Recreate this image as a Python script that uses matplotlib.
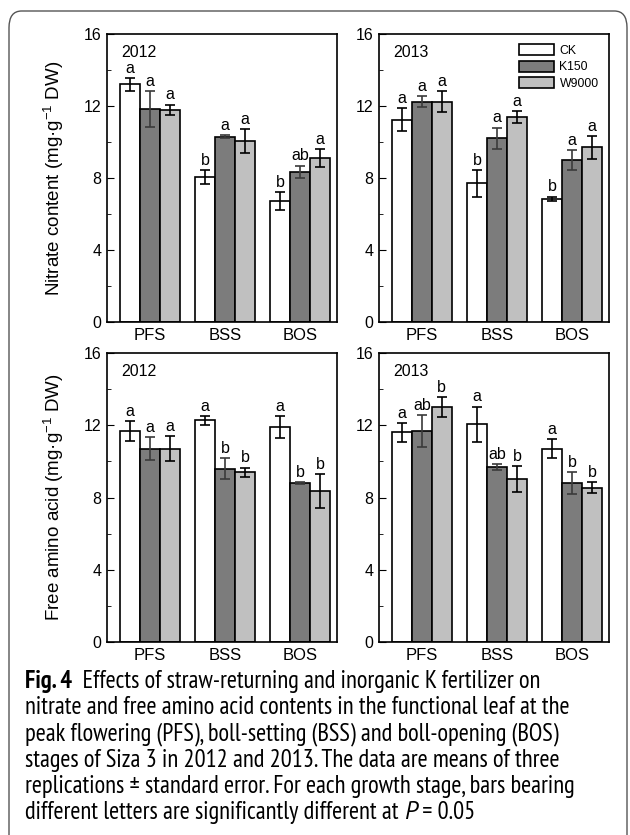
import numpy as np
import matplotlib
matplotlib.use("Agg")
import matplotlib.pyplot as plt
from matplotlib.patches import FancyBboxPatch

plt.rcParams["font.family"] = ["Liberation Sans", "DejaVu Sans"]
plt.rcParams["mathtext.fontset"] = "custom"
plt.rcParams["mathtext.rm"] = "Liberation Sans"
plt.rcParams["mathtext.it"] = "Liberation Sans:italic"

stages = ["PFS", "BSS", "BOS"]
treatments = ["CK", "K150", "W9000"]
years = ["2012", "2013"]

# nitrate content, mg/g DW  (rows: CK, K150, W9000; cols: PFS, BSS, BOS)
nitrate_2012 = [[13.2, 8.05, 6.7], [11.85, 10.3, 8.35], [11.8, 10.05, 9.1]]
nitrate_2012_se = [[0.37, 0.37, 0.5], [1.0, 0.07, 0.34], [0.28, 0.65, 0.5]]
nitrate_2012_let = [["a", "b", "b"], ["a", "a", "ab"], ["a", "a", "a"]]
nitrate_2013 = [[11.25, 7.7, 6.85], [12.25, 10.2, 9.0], [12.25, 11.4, 9.7]]
nitrate_2013_se = [[0.62, 0.74, 0.12], [0.3, 0.6, 0.55], [0.58, 0.34, 0.65]]
nitrate_2013_let = [["a", "b", "b"], ["a", "a", "a"], ["a", "a", "a"]]

# free amino acid, mg/g DW
amino_2012 = [[11.7, 12.27, 11.9], [10.7, 9.6, 8.82], [10.7, 9.4, 8.35]]
amino_2012_se = [[0.55, 0.25, 0.62], [0.63, 0.58, 0.05], [0.69, 0.26, 0.93]]
amino_2012_let = [["a", "a", "a"], ["a", "b", "b"], ["a", "b", "b"]]
amino_2013 = [[11.6, 12.05, 10.7], [11.7, 9.68, 8.82], [13.0, 9.02, 8.55]]
amino_2013_se = [[0.54, 0.98, 0.53], [0.88, 0.18, 0.61], [0.57, 0.7, 0.3]]
amino_2013_let = [["a", "a", "a"], ["ab", "ab", "b"], ["b", "b", "b"]]

caption = [
    "Effects of straw-returning and inorganic K fertilizer on",
    "nitrate and free amino acid contents in the functional leaf at the",
    "peak flowering (PFS), boll-setting (BSS) and boll-opening (BOS)",
    "stages of Siza 3 in 2012 and 2013. The data are means of three",
    "replications \u00b1 standard error. For each growth stage, bars bearing",
    "different letters are significantly different at ",
]

FILL = ["white", "#7c7c7c", "#c0c0c0"]
ECOL = ["black", "#3a3a3a", "black"]
W, H = 630, 835
fig = plt.figure(figsize=(W / 100, H / 100), dpi=100)

fig.patches.append(FancyBboxPatch((9 / W, -0.05), 618 / W, 1 - 11 / H + 0.05,
                                  boxstyle="round,pad=0,rounding_size=0.02",
                                  transform=fig.transFigure, fill=False,
                                  ec="#555555", lw=1.0))


def px_axes(x0, y0, x1, y1):
    return fig.add_axes([x0 / W, 1 - y1 / H, (x1 - x0) / W, (y1 - y0) / H])


def panel(ax, vals, se, lets, year, ylabel=None, legend=False):
    x = np.arange(len(stages))
    bw = 0.265
    for i in range(3):
        xi = x + (i - 1) * bw
        ax.bar(xi, vals[i], bw, color=FILL[i], edgecolor="black", lw=1.2,
               label=treatments[i], zorder=2)
        ax.errorbar(xi, vals[i], yerr=se[i], fmt="none", ecolor=ECOL[i],
                    elinewidth=1.2, capsize=3.6, capthick=1.2, zorder=3)
        for j in range(len(stages)):
            ax.text(xi[j], vals[i][j] + se[i][j] + 0.12, lets[i][j],
                    ha="center", va="bottom", fontsize=11.5)
    ax.set_xlim(-0.57, 2.49)
    ax.set_ylim(0, 16)
    ax.set_yticks([0, 4, 8, 12, 16])
    ax.set_yticks([2, 6, 10, 14], minor=True)
    ax.set_xticks(x)
    ax.set_xticklabels(stages, fontsize=12)
    ax.tick_params(axis="x", length=0, pad=4)
    ax.tick_params(axis="y", which="both", direction="in", labelsize=11.5, pad=4)
    ax.tick_params(axis="y", which="major", length=5)
    ax.tick_params(axis="y", which="minor", length=3)
    for s in ax.spines.values():
        s.set_linewidth(1.2)
    ax.text(0.06, 0.962, year, transform=ax.transAxes, ha="left", va="top",
            fontsize=11.5)
    if ylabel:
        ax.set_ylabel(ylabel, fontsize=13.5, labelpad=13)
    if legend:
        ax.legend(loc="upper right", frameon=False, fontsize=8.8,
                  handlelength=2.9, handleheight=1.0, labelspacing=0.3,
                  handletextpad=0.45, borderaxespad=0.45)


ax1 = px_axes(107, 34, 337, 322)
ax2 = px_axes(379, 34, 609, 322)
ax3 = px_axes(107, 353, 337, 642)
ax4 = px_axes(379, 353, 609, 642)

panel(ax1, nitrate_2012, nitrate_2012_se, nitrate_2012_let, years[0],
      ylabel="Nitrate content (mg\u00b7g$^{-1}$ DW)")
panel(ax2, nitrate_2013, nitrate_2013_se, nitrate_2013_let, years[1], legend=True)
panel(ax3, amino_2012, amino_2012_se, amino_2012_let, years[0],
      ylabel="Free amino acid (mg\u00b7g$^{-1}$ DW)")
panel(ax4, amino_2013, amino_2013_se, amino_2013_let, years[1])

# caption in a narrow face, sized so the second line spans ~542 px
cap_font = ["PT Sans Narrow", "Liberation Sans", "DejaVu Sans"]
fs = 13.0
probe = fig.text(0, 0, caption[1], fontsize=fs, family=cap_font)
fig.canvas.draw()
fs = fs * 542 / probe.get_window_extent().width
probe.remove()

x0, base, dy = 25 / W, 688, 26.2
head = fig.text(x0, 1 - base / H, "Fig. 4", fontsize=fs, fontweight="bold",
                family=cap_font, va="baseline", ha="left")
plt.annotate("  " + caption[0], xy=(1, 0), xycoords=head,
             fontsize=fs, family=cap_font, va="bottom", ha="left",
             annotation_clip=False)
last = None
for k, line in enumerate(caption[1:], start=1):
    last = fig.text(x0, 1 - (base + dy * k) / H, line, fontsize=fs,
                    family=cap_font, va="baseline", ha="left")
p = plt.annotate("P", xy=(1, 0), xycoords=last, fontsize=fs, style="italic",
                 family=["PT Sans", "Liberation Sans"], va="bottom", ha="left",
                 annotation_clip=False)
plt.annotate(" = 0.05", xy=(1, 0), xycoords=p, fontsize=fs, family=cap_font,
             va="bottom", ha="left", annotation_clip=False)

fig.savefig("out.png", dpi=100)
